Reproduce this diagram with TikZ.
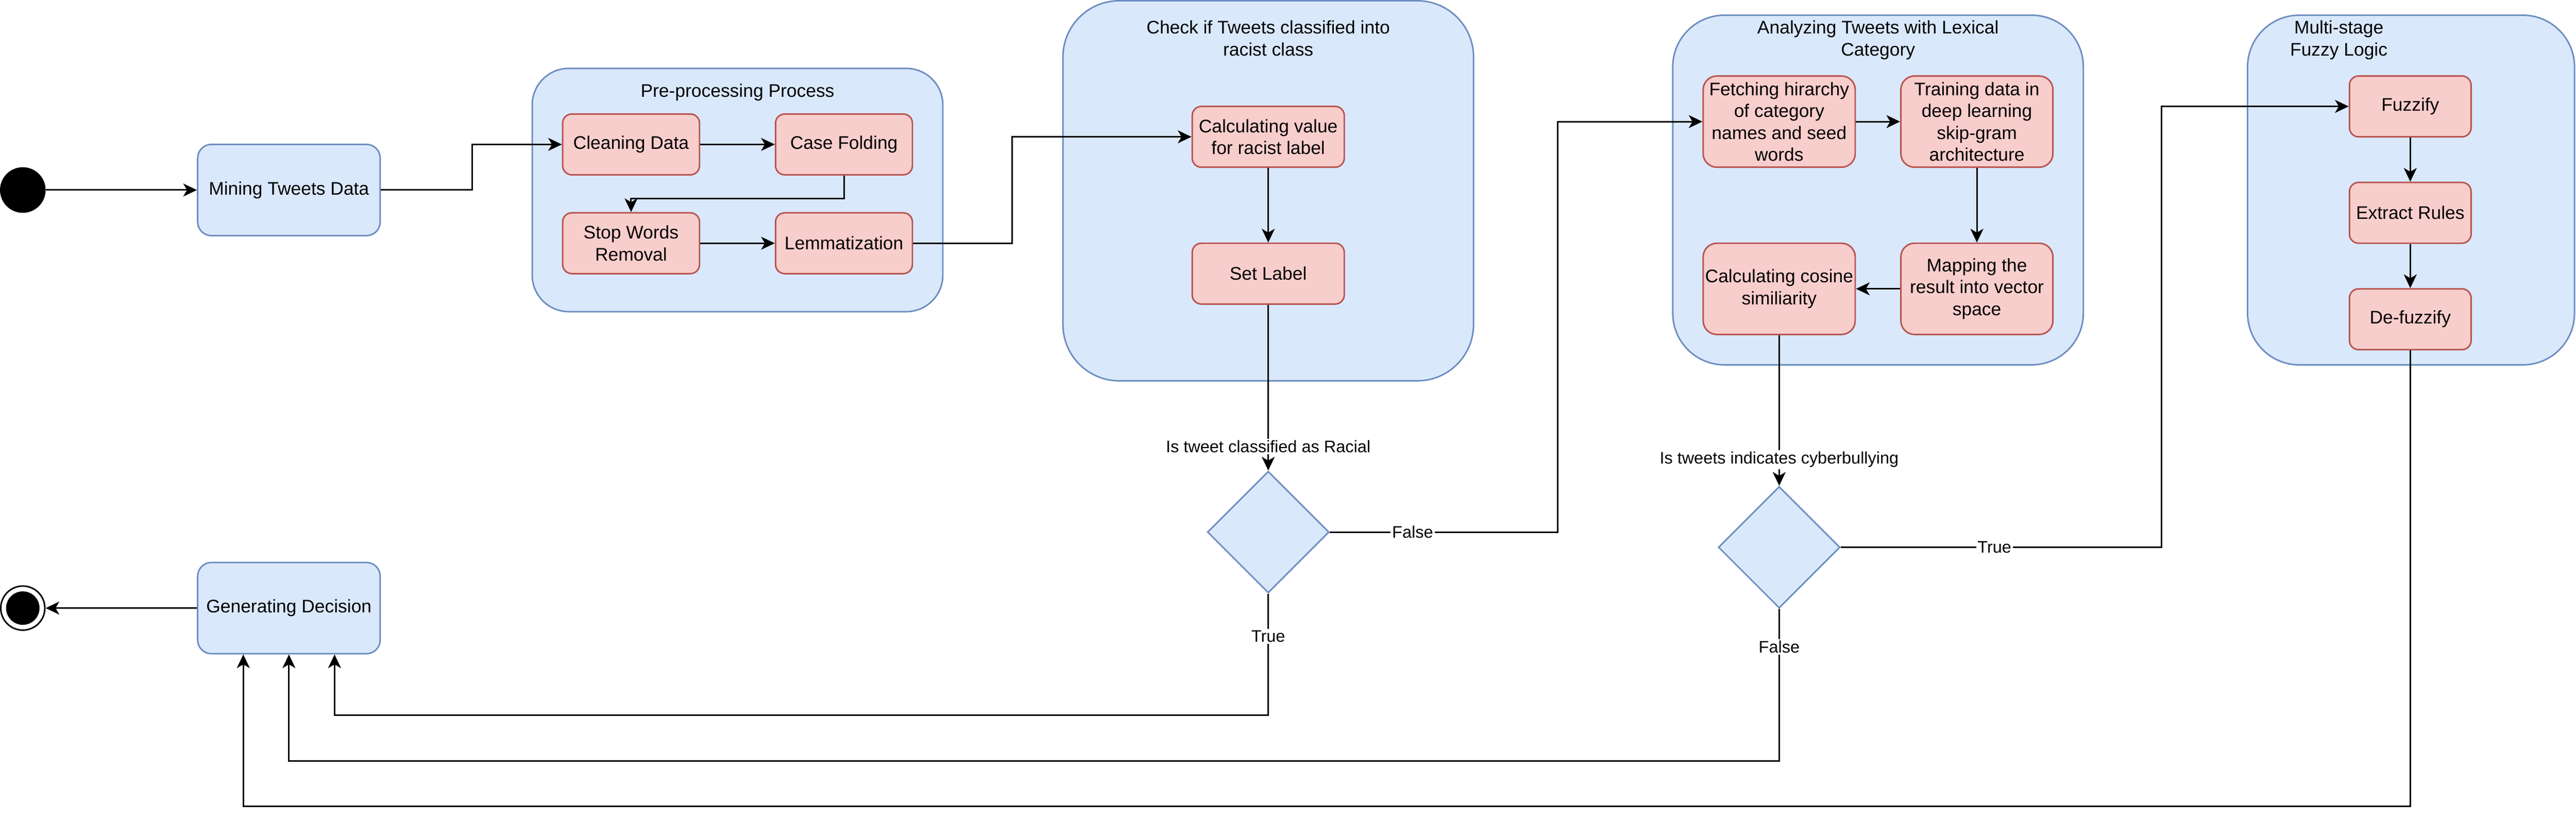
\documentclass[tikz,border=0pt]{standalone}
\usepackage{fontspec}
\setmainfont{Liberation Sans}
\usetikzlibrary{arrows.meta,shapes.geometric,calc}
\definecolor{bfill}{HTML}{DAE8FC}
\definecolor{bdraw}{HTML}{6C8EBF}
\definecolor{rfill}{HTML}{F8CECC}
\definecolor{rdraw}{HTML}{B85450}
\begin{document}
\begin{tikzpicture}[x=1pt,y=-1pt,
  txt/.style={font=\fontsize{12pt}{14.4pt}\selectfont,align=center,inner sep=0pt},
  grp/.style={draw=bdraw,fill=bfill,line width=1pt,rectangle,inner sep=0pt},
  bluebox/.style={txt,draw=bdraw,fill=bfill,line width=1pt,rounded corners=9pt,minimum width=120pt,minimum height=60pt},
  redbox/.style={txt,draw=rdraw,fill=rfill,line width=1pt},
  dec/.style={diamond,aspect=1,draw=bdraw,fill=bfill,line width=1pt,inner sep=0pt,minimum width=80pt,minimum height=80pt},
  arr/.style={draw=black,line width=1pt,-{Stealth[length=9pt,width=8.5pt,inset=2.5pt]}},
  lbl/.style={fill=white,inner sep=1pt,font=\fontsize{11pt}{13.2pt}\selectfont}
]
\useasboundingbox (0,0) rectangle (1694,540);

% groups
\node[grp,minimum width=270pt,minimum height=160pt,rounded corners=24pt] (gpre) at (485,125) {};
\node[grp,minimum width=270pt,minimum height=250pt,rounded corners=37pt] (gchk) at (834,125.5) {};
\node[grp,minimum width=270pt,minimum height=230pt,rounded corners=34pt] (gana) at (1235,125) {};
\node[grp,minimum width=215pt,minimum height=230pt,rounded corners=34pt] (gmul) at (1585.5,125) {};
\node[txt,anchor=base] (tpre) at (485,64) {Pre-processing Process};
\node[txt,anchor=base] (tchk) at (834,36.6) {Check if Tweets classified into\\racist class};
\node[txt,anchor=base] (tana) at (1235,36.6) {Analyzing Tweets with Lexical\\Category};
\node[txt,anchor=base] (tmul) at (1538,36.6) {Multi-stage\\Fuzzy Logic};

% start / end
\node[circle,fill=black,draw=black,line width=1pt,minimum size=29pt,inner sep=0pt] (start) at (15,125) {};
\node[circle,fill=white,draw=black,line width=1pt,minimum size=29pt,inner sep=0pt] (end) at (15,400) {};
\fill[black] (end.center) circle (11pt);

% boxes
\node[bluebox] (mine) at (190,125) {Mining Tweets Data};
\node[bluebox] (gen) at (190,400) {Generating Decision};

\node[redbox,minimum width=90pt,minimum height=40pt,rounded corners=6pt] (clean) at (415,95) {Cleaning Data};
\node[redbox,minimum width=90pt,minimum height=40pt,rounded corners=6pt] (case) at (555,95) {Case Folding};
\node[redbox,minimum width=90pt,minimum height=40pt,rounded corners=6pt] (stop) at (415,160) {Stop Words\\Removal};
\node[redbox,minimum width=90pt,minimum height=40pt,rounded corners=6pt] (lemma) at (555,160) {Lemmatization};

\node[redbox,minimum width=100pt,minimum height=40pt,rounded corners=6pt] (calc) at (834,90) {Calculating value\\for racist label};
\node[redbox,minimum width=100pt,minimum height=40pt,rounded corners=6pt] (setl) at (834,180) {Set Label};

\node[redbox,minimum width=100pt,minimum height=60pt,rounded corners=9pt] (fetch) at (1170,80) {Fetching hirarchy\\of category\\names and seed\\words};
\node[redbox,minimum width=100pt,minimum height=60pt,rounded corners=9pt] (train) at (1300,80) {Training data in\\deep learning\\skip-gram\\architecture};
\node[redbox,minimum width=100pt,minimum height=60pt,rounded corners=9pt] (cosine) at (1170,190) {Calculating cosine\\similiarity};
\node[redbox,minimum width=100pt,minimum height=60pt,rounded corners=9pt] (map) at (1300,190) {Mapping the\\result into vector\\space};

\node[redbox,minimum width=80pt,minimum height=40pt,rounded corners=6pt] (fuzz) at (1585,70) {Fuzzify};
\node[redbox,minimum width=80pt,minimum height=40pt,rounded corners=6pt] (extr) at (1585,140) {Extract Rules};
\node[redbox,minimum width=80pt,minimum height=40pt,rounded corners=6pt] (defuzz) at (1585,210) {De-fuzzify};

\node[dec] (d1) at (834,350) {};
\node[dec] (d2) at (1170,360) {};

% connectors
\draw[arr] (start) -- (mine);
\draw[arr] (mine.east) -- ++(60,0) |- (clean.west);
\draw[arr] (clean) -- (case);
\draw[arr] (case.south) -- ++(0,15) -| (stop.north);
\draw[arr] (stop) -- (lemma);
\draw[arr] (lemma.east) -- ++(65,0) |- (calc.west);
\draw[arr] (calc) -- (setl);
\draw[arr] (setl) -- node[lbl,pos=0.855] {Is tweet classified as Racial} (d1);
\draw[arr] (d1.east) -- node[lbl,pos=0.363] {False} ++(150,0) |- (fetch.west);
\draw[arr] (d1.south) -- node[lbl,pos=0.35] {True} ++(0,80) -| ($(gen.south)+(30,0)$);
\draw[arr] (fetch) -- (train);
\draw[arr] (train) -- (map);
\draw[arr] (map) -- (cosine);
\draw[arr] (cosine) -- node[lbl,pos=0.827] {Is tweets indicates cyberbullying} (d2);
\draw[arr] (d2.east) -- node[lbl,pos=0.479] {True} ++(211,0) |- (fuzz.west);
\draw[arr] (d2.south) -- node[lbl,pos=0.25] {False} ++(0,100) -| (gen.south);
\draw[arr] (fuzz) -- (extr);
\draw[arr] (extr) -- (defuzz);
\draw[arr] (defuzz.south) -- ++(0,300) -| ($(gen.south)+(-30,0)$);
\draw[arr] (gen) -- (end);
\end{tikzpicture}
\end{document}
